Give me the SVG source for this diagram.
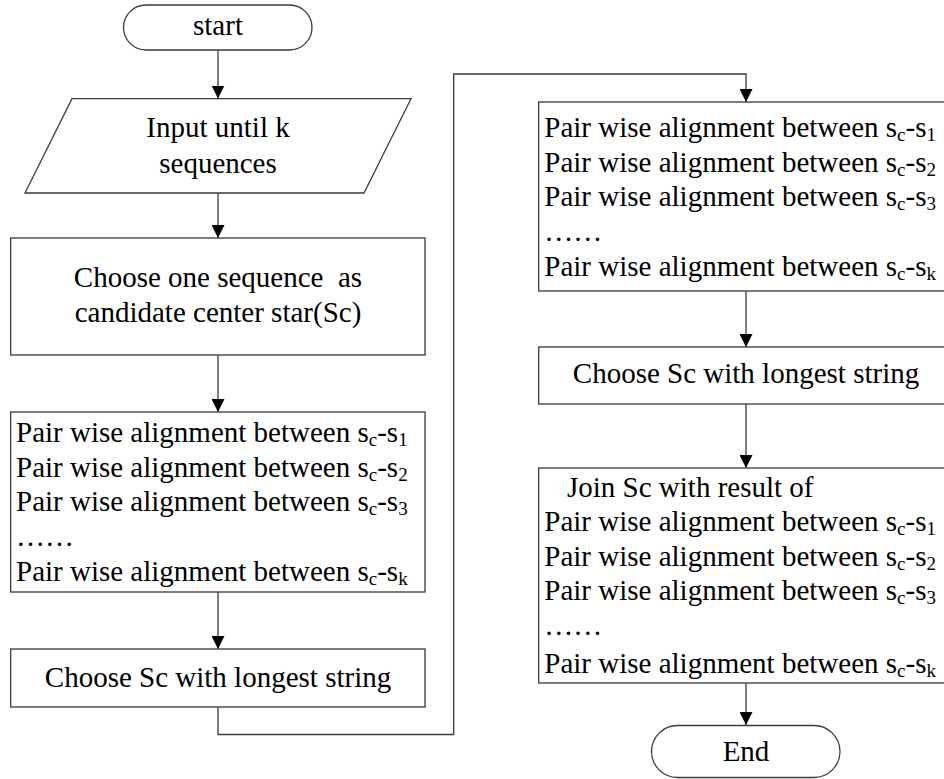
<svg xmlns="http://www.w3.org/2000/svg" width="944" height="779" viewBox="0 0 944 779">
  <style>
    .shape { fill: #ffffff; stroke: #3a3a3a; stroke-width: 1.3; }
    .wire { fill: none; stroke: #3a3a3a; stroke-width: 1.3; }
    text { font-family: 'Liberation Serif', 'DejaVu Serif', serif; font-size: 29px; fill: #000000; }
    .mid { text-anchor: middle; }
    .sub { font-size: 19px; }
  </style>
  <defs>
    <marker id="arrow" viewBox="0 0 13 13" refX="13" refY="6.5" markerWidth="13" markerHeight="13" markerUnits="userSpaceOnUse" orient="auto">
      <path d="M0,0 L13,6.5 L0,13 Z" fill="#000000"/>
    </marker>
  </defs>
  <rect width="944" height="779" fill="#ffffff"/>

  <!-- connectors -->
  <g id="connectors">
    <line class="wire" x1="218" y1="50" x2="218" y2="98.5" marker-end="url(#arrow)"/>
    <line class="wire" x1="218" y1="193" x2="218" y2="238" marker-end="url(#arrow)"/>
    <line class="wire" x1="218" y1="355" x2="218" y2="412" marker-end="url(#arrow)"/>
    <line class="wire" x1="218" y1="592" x2="218" y2="649" marker-end="url(#arrow)"/>
    <polyline class="wire" points="218,707 218,734.5 453.7,734.5 453.7,74 746,74 746,102" marker-end="url(#arrow)"/>
    <line class="wire" x1="746" y1="291" x2="746" y2="347" marker-end="url(#arrow)"/>
    <line class="wire" x1="746" y1="404" x2="746" y2="468" marker-end="url(#arrow)"/>
    <line class="wire" x1="746" y1="683" x2="746" y2="725" marker-end="url(#arrow)"/>
  </g>

  <g font-family="Liberation Serif, DejaVu Serif, serif">
  <!-- start terminator -->
  <g id="start">
    <rect class="shape" x="123.5" y="5" width="188.5" height="45" rx="22.5" ry="22.5"/>
    <text class="mid" x="218" y="35">start</text>
  </g>

  <!-- input -->
  <g id="input">
    <polygon class="shape" points="72,98.7 411,98.7 364,193 25,193"/>
    <text class="mid" x="218" y="137">Input until k</text>
    <text class="mid" x="218" y="172.5">sequences</text>
  </g>

  <!-- choose candidate -->
  <g id="choose-candidate">
    <rect class="shape" x="10.7" y="238" width="414.3" height="117"/>
    <text class="mid" x="218" y="287" xml:space="preserve">Choose one sequence  as</text>
    <text class="mid" x="218" y="322">candidate center star(Sc)</text>
  </g>

  <!-- pairwise alignments (left) -->
  <g id="pairwise-left">
    <rect class="shape" x="10.7" y="412" width="414.3" height="180"/>
    <text x="16" y="442">Pair wise alignment between s<tspan class="sub" dy="4">c</tspan><tspan dy="-4">-s</tspan><tspan class="sub" dy="4">1</tspan></text>
    <text x="16" y="476.5">Pair wise alignment between s<tspan class="sub" dy="4">c</tspan><tspan dy="-4">-s</tspan><tspan class="sub" dy="4">2</tspan></text>
    <text x="16" y="511">Pair wise alignment between s<tspan class="sub" dy="4">c</tspan><tspan dy="-4">-s</tspan><tspan class="sub" dy="4">3</tspan></text>
    <text x="16" y="546">……</text>
    <text x="16" y="581">Pair wise alignment between s<tspan class="sub" dy="4">c</tspan><tspan dy="-4">-s</tspan><tspan class="sub" dy="4">k</tspan></text>
  </g>

  <!-- choose longest (left) -->
  <g id="choose-longest-left">
    <rect class="shape" x="10.7" y="649" width="414.3" height="58"/>
    <text class="mid" x="218" y="687">Choose Sc with longest string</text>
  </g>

  <!-- pairwise alignments (right) -->
  <g id="pairwise-right">
    <rect class="shape" x="538.7" y="102" width="414.3" height="189"/>
    <text x="544.3" y="137">Pair wise alignment between s<tspan class="sub" dy="4">c</tspan><tspan dy="-4">-s</tspan><tspan class="sub" dy="4">1</tspan></text>
    <text x="544.3" y="171.5">Pair wise alignment between s<tspan class="sub" dy="4">c</tspan><tspan dy="-4">-s</tspan><tspan class="sub" dy="4">2</tspan></text>
    <text x="544.3" y="206">Pair wise alignment between s<tspan class="sub" dy="4">c</tspan><tspan dy="-4">-s</tspan><tspan class="sub" dy="4">3</tspan></text>
    <text x="544.3" y="240.5">……</text>
    <text x="544.3" y="276">Pair wise alignment between s<tspan class="sub" dy="4">c</tspan><tspan dy="-4">-s</tspan><tspan class="sub" dy="4">k</tspan></text>
  </g>

  <!-- choose longest (right) -->
  <g id="choose-longest-right">
    <rect class="shape" x="538.7" y="347" width="414.3" height="57"/>
    <text class="mid" x="746" y="383">Choose Sc with longest string</text>
  </g>

  <!-- join results -->
  <g id="join">
    <rect class="shape" x="538.7" y="468" width="414.3" height="215"/>
    <text x="567" y="497">Join Sc with result of</text>
    <text x="544.3" y="531">Pair wise alignment between s<tspan class="sub" dy="4">c</tspan><tspan dy="-4">-s</tspan><tspan class="sub" dy="4">1</tspan></text>
    <text x="544.3" y="565.5">Pair wise alignment between s<tspan class="sub" dy="4">c</tspan><tspan dy="-4">-s</tspan><tspan class="sub" dy="4">2</tspan></text>
    <text x="544.3" y="600">Pair wise alignment between s<tspan class="sub" dy="4">c</tspan><tspan dy="-4">-s</tspan><tspan class="sub" dy="4">3</tspan></text>
    <text x="544.3" y="634.5">……</text>
    <text x="544.3" y="673">Pair wise alignment between s<tspan class="sub" dy="4">c</tspan><tspan dy="-4">-s</tspan><tspan class="sub" dy="4">k</tspan></text>
  </g>

  <!-- end terminator -->
  <g id="end">
    <rect class="shape" x="651.5" y="725.5" width="188.5" height="52" rx="26" ry="26"/>
    <text class="mid" x="746" y="761">End</text>
  </g>
  </g>
</svg>
